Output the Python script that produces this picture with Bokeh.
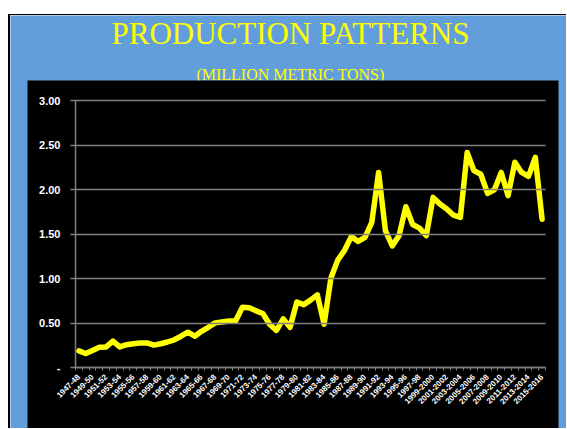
import numpy as np
from bokeh.plotting import figure
from bokeh.models import Range1d, FixedTicker, LinearAxis, BoxAnnotation, Label, Spacer
from bokeh.layouts import column, row
from bokeh.embed import file_html
from bokeh.resources import INLINE

# ---- data ----
seasons = [
    "1947-48", "1948-49", "1949-50", "1950-51", "1951-52", "1952-53", "1953-54",
    "1954-55", "1955-56", "1956-57", "1957-58", "1958-59", "1959-60", "1960-61",
    "1961-62", "1962-63", "1963-64", "1964-65", "1965-66", "1966-67", "1967-68",
    "1968-69", "1969-70", "1970-71", "1971-72", "1972-73", "1973-74", "1974-75",
    "1975-76", "1976-77", "1977-78", "1978-79", "1979-80", "1980-81", "1981-82",
    "1982-83", "1983-84", "1984-85", "1985-86", "1986-87", "1987-88", "1988-89",
    "1989-90", "1990-91", "1991-92", "1992-93", "1993-94", "1994-95", "1995-96",
    "1996-97", "1997-98", "1998-99", "1999-2000", "2000-2001", "2001-2002",
    "2002-2003", "2003-2004", "2004-2005", "2005-2006", "2006-2007", "2007-2008",
    "2008-2009", "2009-2010", "2010-2011", "2011-2012", "2012-2013", "2013-2014",
    "2014-2015", "2015-2016",
]

production = [
    0.19, 0.16, 0.195, 0.23, 0.235, 0.30, 0.235, 0.26, 0.27, 0.28,
    0.28, 0.255, 0.27, 0.29, 0.315, 0.355, 0.40, 0.355, 0.41, 0.455,
    0.505, 0.515, 0.525, 0.525, 0.68, 0.675, 0.64, 0.61, 0.49, 0.42,
    0.55, 0.455, 0.74, 0.71, 0.76, 0.82, 0.49, 1.01, 1.21, 1.32,
    1.475, 1.42, 1.465, 1.635, 2.195, 1.54, 1.37, 1.485, 1.81, 1.61,
    1.57, 1.485, 1.915, 1.84, 1.785, 1.715, 1.69, 2.42, 2.215, 2.175,
    1.96, 2.0, 2.195, 1.935, 2.31, 2.195, 2.15, 2.365, 1.67,
]

y_ticks = [0.0, 0.5, 1.0, 1.5, 2.0, 2.5, 3.0]
y_tick_labels = ["-", "0.50", "1.00", "1.50", "2.00", "2.50", "3.00"]

title_text = "PRODUCTION PATTERNS"
subtitle_text = "(MILLION METRIC TONS)"

# ---- derived positions ----
n = len(seasons)
xs = list(range(n))
label_idx = xs[::2]
boundaries = [i - 0.5 for i in range(n + 1)]

BLUE = "#639EDC"
YELLOW = "#FFFF00"
GRID = "#808080"

# layout constants: the frame fills the whole canvas (the blue slide area);
# these are screen positions expressed in range units
X_RANGE = (-10.0426, 71.5830)
Y_RANGE = (-0.6820, 3.9584)
CHART_LEFT, CHART_RIGHT, CHART_TOP = -7.5468, 70.4085, 3.2281   # black chart area
TITLE_X, TITLE_Y = 31.06, 3.5606
SUB_X, SUB_Y = 31.06, 3.1944

p = figure(
    width=556, height=413,
    output_backend="svg", toolbar_location=None,
    x_range=Range1d(*X_RANGE), y_range=Range1d(*Y_RANGE),
    x_axis_type=None, y_axis_type=None,
    min_border_left=0, min_border_right=0, min_border_top=0, min_border_bottom=0,
)
p.background_fill_color = BLUE
p.border_fill_color = BLUE
p.outline_line_color = None

# titles
p.add_layout(Label(x=TITLE_X, y=TITLE_Y, text=title_text, text_align="center",
                   text_baseline="bottom", text_color=YELLOW,
                   text_font="Liberation Serif", text_font_size="31px"))
# subtitle, partly hidden by the black chart area drawn over it
p.add_layout(Label(x=SUB_X, y=SUB_Y, text=subtitle_text, text_align="center",
                   text_baseline="bottom", text_color=YELLOW,
                   text_font="Liberation Serif", text_font_size="16px",
                   level="underlay"))
# black chart area
p.add_layout(BoxAnnotation(left=CHART_LEFT, right=CHART_RIGHT, top=CHART_TOP,
                           fill_color="black", fill_alpha=1.0,
                           line_color=None, level="underlay"))

# y axis placed inside the black chart area; long inward ticks act as gridlines
yax = LinearAxis(fixed_location=-0.5, ticker=FixedTicker(ticks=y_ticks, minor_ticks=[]),
                 bounds=(0, 3))
yax.major_label_overrides = {t: l for t, l in zip(y_ticks, y_tick_labels)}
yax.axis_line_color = GRID
yax.axis_line_width = 1.5
yax.major_tick_line_color = GRID
yax.major_tick_line_width = 1.5
yax.major_tick_out = 5
yax.major_tick_in = 470
yax.minor_tick_line_color = None
yax.major_label_text_color = "white"
yax.major_label_text_font = "Liberation Sans"
yax.major_label_text_font_style = "bold"
yax.major_label_text_font_size = "11px"
yax.major_label_standoff = 10
p.add_layout(yax, "left")

# x axis: tick marks at category boundaries, labels at every other category
xax = LinearAxis(fixed_location=0,
                 ticker=FixedTicker(ticks=label_idx, minor_ticks=boundaries),
                 bounds=(-0.5, n - 0.5))
xax.major_label_overrides = {i: seasons[i] for i in label_idx}
xax.major_label_orientation = np.pi / 4
xax.axis_line_color = GRID
xax.axis_line_width = 1.5
xax.major_tick_line_color = None
xax.major_tick_out = 0
xax.major_tick_in = 0
xax.minor_tick_line_color = GRID
xax.minor_tick_line_width = 1
xax.minor_tick_out = 3
xax.minor_tick_in = 0
xax.major_label_text_color = "white"
xax.major_label_text_font = "Liberation Sans"
xax.major_label_text_font_style = "bold"
xax.major_label_text_font_size = "8px"
xax.major_label_standoff = 5
p.add_layout(xax, "below")

p.line(x=xs, y=production, line_color=YELLOW, line_width=5.5,
       line_join="round", line_cap="round")

# slide frame: white strip on top, thin black border lines, then the blue slide
layout = column(
    Spacer(width=567, height=14),
    row(Spacer(width=8, height=1),
        Spacer(width=558, height=1, styles={"background-color": "black"})),
    row(Spacer(width=8, height=413),
        Spacer(width=2, height=413, styles={"background-color": "black"}),
        p),
)

open("out.html", "w").write(file_html(layout, INLINE))
